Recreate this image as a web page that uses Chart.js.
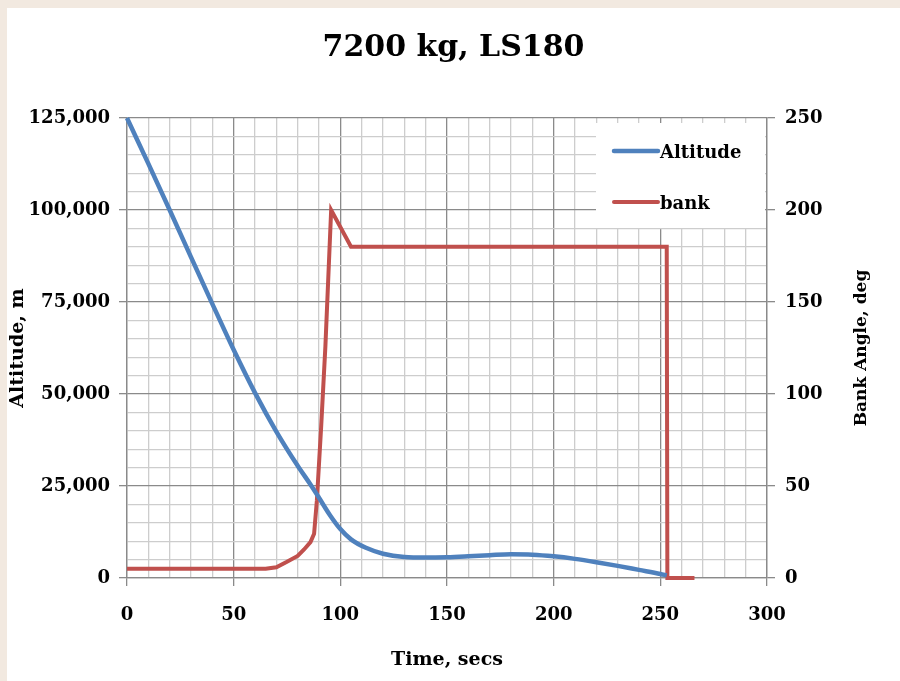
<!DOCTYPE html>
<html>
<head>
<meta charset="utf-8">
<script src="https://cdn.jsdelivr.net/npm/chart.js@4.4.0/dist/chart.umd.min.js"></script>
<style>
  html, body { margin: 0; padding: 0; background: #f2e9e0; }
  #wrap { position: absolute; left: 7px; top: 8px; width: 893px; height: 673px; background: #fff; }
</style>
</head>
<body>
<div id="wrap"><canvas id="myChart"></canvas></div>
<script>
// Altitude trace (time in s, altitude in m)
const altTime = [0, 10, 20, 30, 40, 50, 60, 70, 80, 86, 90, 95, 100, 105, 112, 120, 130, 140, 150, 160, 170, 180, 190, 200, 210, 220, 230, 240, 250, 253];
const altitude = [125000, 112600, 100000, 87200, 74500, 62000, 50300, 39800, 30500, 25400, 21800, 17200, 13300, 10500, 8200, 6600, 5700, 5550, 5650, 5900, 6200, 6450, 6350, 5900, 5200, 4300, 3300, 2200, 1100, 700];

// Bank angle trace (time in s, angle in deg)
const bankTime = [0, 65, 70, 75, 80, 83, 86, 87.7, 89, 91, 93, 95.7, 105, 253, 253.3, 266];
const bankAngle = [5, 5, 5.8, 8.8, 12, 15.5, 19.5, 24, 42, 82, 126, 200, 180, 180, 0, 0];

const FONT = 'DejaVu Serif';
const MAJOR = '#8a8a8a';
const MINOR = '#cdcdcd';
const RIGHT_TITLE = 'Bank Angle, deg';

const toPoints = (xs, ys) => xs.map((x, i) => ({ x: x, y: ys[i] }));

// legend drawn inside the plot, top right, like the original
const insideLegend = {
    id: 'insideLegend',
    afterDatasetsDraw(chart) {
        const { ctx, chartArea } = chart;
        const left = chartArea.right - 171;
        const top = chartArea.top + 5;
        ctx.save();
        ctx.fillStyle = '#fff';
        ctx.fillRect(left, top, 169, 105);
        ctx.font = 'bold 18px ' + FONT;
        ctx.textBaseline = 'middle';
        chart.data.datasets.forEach((ds, i) => {
            const y = top + 28 + i * 51;
            ctx.strokeStyle = ds.borderColor;
            ctx.lineWidth = ds.borderWidth;
            ctx.lineCap = 'round';
            ctx.beginPath();
            ctx.moveTo(left + 18, y);
            ctx.lineTo(left + 62, y);
            ctx.stroke();
            ctx.fillStyle = '#000';
            ctx.fillText(ds.label, left + 64, y + 2);
        });
        ctx.restore();
    }
};

// right axis title reads bottom-to-top in the original, Chart.js turns it the other way
const rightTitle = {
    id: 'rightTitle',
    afterDraw(chart) {
        const { ctx, chartArea } = chart;
        const s = chart.scales.y1;
        ctx.save();
        ctx.translate(s.right - 38, (chartArea.top + chartArea.bottom) / 2);
        ctx.rotate(-Math.PI / 2);
        ctx.font = 'bold 17px ' + FONT;
        ctx.fillStyle = '#000';
        ctx.textAlign = 'center';
        ctx.textBaseline = 'middle';
        ctx.fillText(RIGHT_TITLE, 0, 0);
        ctx.restore();
    }
};

const gridColor = step => c => (c.tick && c.tick.value % step === 0) ? MAJOR : MINOR;
const tickMark = step => c => (c.tick && c.tick.value % step === 0) ? MAJOR : 'rgba(0,0,0,0)';

const ctx = document.getElementById('myChart').getContext('2d');
const myChart = new Chart(ctx, {
    type: 'line',
    data: {
        datasets: [{
            label: 'Altitude',
            data: toPoints(altTime, altitude),
            yAxisID: 'y',
            borderColor: '#4f81bd',
            borderWidth: 4.5,
            pointRadius: 0,
            clip: 4,
            cubicInterpolationMode: 'monotone'
        }, {
            label: 'bank',
            data: toPoints(bankTime, bankAngle),
            yAxisID: 'y1',
            borderColor: '#c0504d',
            borderWidth: 4,
            pointRadius: 0,
            clip: 4,
            tension: 0
        }]
    },
    options: {
        responsive: true,
        maintainAspectRatio: false,
        animation: false,
        layout: { padding: 0 },
        plugins: {
            legend: { display: false },
            tooltip: { enabled: false },
            title: {
                display: true,
                text: '7200 kg, LS180',
                color: '#000',
                font: { family: FONT, size: 30, weight: 'bold', lineHeight: 1.2 },
                padding: { top: 22, bottom: 52 }
            }
        },
        scales: {
            x: {
                type: 'linear',
                min: 0,
                max: 300,
                afterFit: s => { s.height = 103; },
                ticks: {
                    stepSize: 10,
                    autoSkip: false,
                    maxRotation: 0,
                    padding: 19,
                    color: '#000',
                    font: { family: FONT, size: 18, weight: 'bold' },
                    callback: v => v % 50 === 0 ? v : ''
                },
                grid: { color: gridColor(50), tickColor: tickMark(50), tickLength: 8, lineWidth: 1.3 },
                border: { color: MAJOR, width: 1.3 },
                title: {
                    display: true,
                    text: 'Time, secs',
                    color: '#000',
                    font: { family: FONT, size: 19, weight: 'bold', lineHeight: 1.2 },
                    padding: { top: 0, bottom: 10 }
                }
            },
            y: {
                position: 'left',
                min: 0,
                max: 125000,
                afterFit: s => { s.width = 120; },
                ticks: {
                    stepSize: 5000,
                    autoSkip: false,
                    padding: 9,
                    color: '#000',
                    font: { family: FONT, size: 18, weight: 'bold' },
                    callback: v => v % 25000 === 0 ? v.toLocaleString('en-US') : ''
                },
                grid: { color: gridColor(25000), tickColor: tickMark(25000), tickLength: 8, lineWidth: 1.3 },
                border: { color: MAJOR, width: 1.3 },
                title: {
                    display: true,
                    text: 'Altitude, m',
                    color: '#000',
                    font: { family: FONT, size: 19, weight: 'bold', lineHeight: 1.2 },
                    padding: { top: 0, bottom: 0 }
                }
            },
            y1: {
                position: 'right',
                min: 0,
                max: 250,
                afterFit: s => { s.width = 133; },
                ticks: {
                    stepSize: 10,
                    autoSkip: false,
                    padding: 10,
                    color: '#000',
                    font: { family: FONT, size: 18, weight: 'bold' },
                    callback: v => v % 50 === 0 ? v : ''
                },
                grid: { drawOnChartArea: false, tickColor: tickMark(50), tickLength: 8, lineWidth: 1.3 },
                border: { color: MAJOR, width: 1.3 },
                title: { display: false }
            }
        }
    },
    plugins: [insideLegend, rightTitle]
});
</script>
</body>
</html>
